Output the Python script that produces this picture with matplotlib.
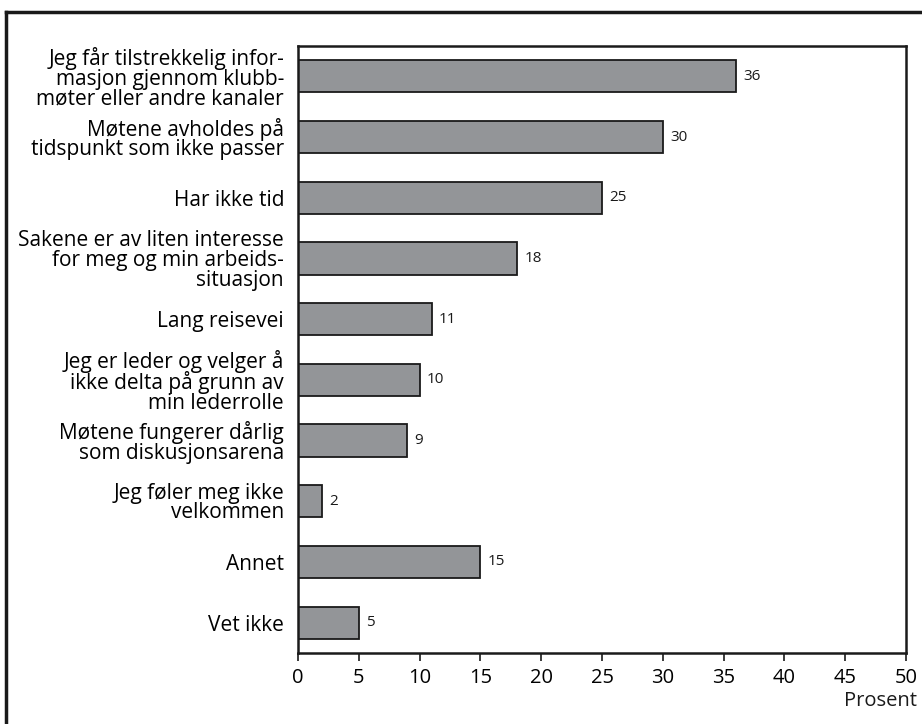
import matplotlib.pyplot as plt
from matplotlib.lines import Line2D

plt.rcParams['font.family'] = ['Open Sans', 'DejaVu Sans']

categories = [
    'Jeg får tilstrekkelig infor-\nmasjon gjennom klubb-\nmøter eller andre kanaler',
    'Møtene avholdes på\ntidspunkt som ikke passer',
    'Har ikke tid',
    'Sakene er av liten interesse\nfor meg og min arbeids-\nsituasjon',
    'Lang reisevei',
    'Jeg er leder og velger å\nikke delta på grunn av\nmin lederrolle',
    'Møtene fungerer dårlig\nsom diskusjonsarena',
    'Jeg føler meg ikke\nvelkommen',
    'Annet',
    'Vet ikke',
]
values = [36, 30, 25, 18, 11, 10, 9, 2, 15, 5]
xticks = [0, 5, 10, 15, 20, 25, 30, 35, 40, 45, 50]

fig = plt.figure(figsize=(9.22, 7.24), dpi=100)
ax = fig.add_axes([298 / 922, 1 - 653 / 724, 608 / 922, 607 / 724])

pos = list(range(len(categories)))
bars = ax.barh(pos, values, height=0.53, color='#939598',
               edgecolor='#1a1a1a', linewidth=1.3)
for y, v in zip(pos, values):
    ax.text(v + 0.6, y, str(v), va='center', ha='left', fontsize=11,
            color='#1a1a1a')

ax.set_ylim(len(categories) - 0.5, -0.5)
ax.set_xlim(0, 50)
ax.set_xticks(xticks)
ax.set_xticklabels([str(t) for t in xticks], fontsize=14.5)
ax.set_yticks(pos)
ax.set_yticklabels(categories, fontsize=15, linespacing=0.92)
ax.tick_params(axis='y', length=0, pad=10)
ax.tick_params(axis='x', length=6, width=1.2, pad=5, color='#1a1a1a')
for s in ax.spines.values():
    s.set_linewidth(1.8)
    s.set_color('#1a1a1a')

fig.text(917 / 922, 1 - 701 / 724, 'Prosent', ha='right', va='center',
         fontsize=14.5, color='#1a1a1a')

# outer frame around the figure panel
fig.add_artist(Line2D([6 / 922, 6 / 922], [0, 1 - 12 / 724],
                      transform=fig.transFigure, color='#1a1a1a', lw=2.5))
fig.add_artist(Line2D([6 / 922, 1], [1 - 12 / 724, 1 - 12 / 724],
                      transform=fig.transFigure, color='#1a1a1a', lw=2.5))

fig.savefig('out.png', dpi=100)
